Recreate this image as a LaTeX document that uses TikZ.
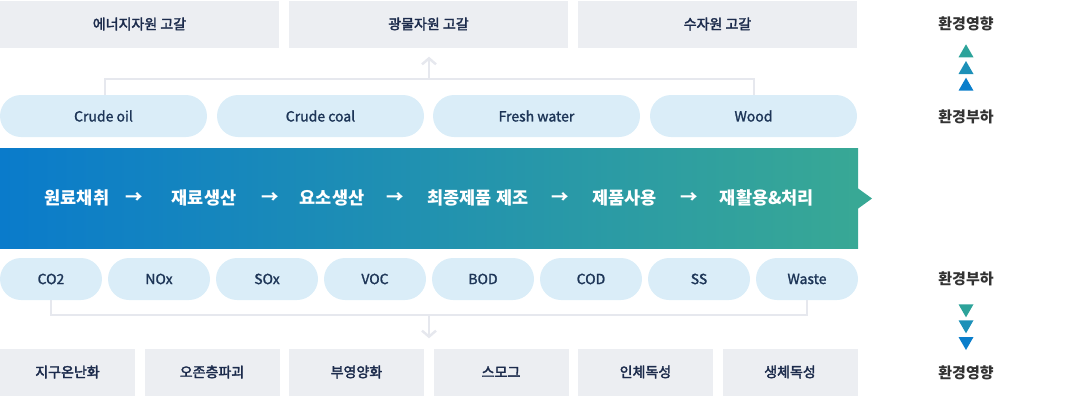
\documentclass[tikz,border=0pt]{standalone}
\usepackage{fontspec}
\setmainfont{Noto Sans CJK KR}
\newfontfamily\medfont{Noto Sans CJK KR}[FakeBold=2.5]
\newfontfamily\pillfont{Noto Sans CJK KR}[FakeBold=1.5]
\usetikzlibrary{arrows.meta}
\definecolor{boxgray}{HTML}{ECEEF2}
\definecolor{pillblue}{HTML}{DAEDF8}
\definecolor{navy}{HTML}{1C2B4C}
\definecolor{pilltext}{HTML}{1D3557}
\definecolor{linegray}{HTML}{E6E8EE}
\definecolor{bandL}{HTML}{0A7BCB}
\definecolor{bandR}{HTML}{38A895}
\definecolor{triT}{HTML}{2DA39A}
\definecolor{triM}{HTML}{1C90B8}
\definecolor{triB}{HTML}{0A7ECB}
\definecolor{labgray}{HTML}{333333}
\tikzset{
  graybox/.style={fill=boxgray, minimum height=47pt, inner sep=0pt, font=\medfont\fontsize{14}{16}\selectfont, text=navy},
  pill/.style={fill=pillblue, rounded corners=21pt, minimum height=42pt, inner sep=0pt, font=\pillfont\fontsize{14}{16}\selectfont, text=pilltext},
  stage/.style={text=white, font=\bfseries\fontsize{17.5}{20}\selectfont, inner sep=0pt},
  reflab/.style={text=labgray, font=\bfseries\fontsize{15}{18}\selectfont, inner sep=0pt},
  conn/.style={draw=linegray, line width=2pt},
  connarrow/.style={draw=linegray, line width=2.5pt, -{Straight Barb[length=6pt,width=14pt]}}
}
\begin{document}
\begin{tikzpicture}[x=1pt,y=-1pt]
\useasboundingbox (0,0) rectangle (1080,408);
% top boxes
\node[graybox, minimum width=279pt] (t1) at (139.5,24) {에너지자원 고갈};
\node[graybox, minimum width=279pt] (t2) at (428.5,24) {광물자원 고갈};
\node[graybox, minimum width=279pt] (t3) at (717.5,24) {수자원 고갈};
% top pills
\node[pill, minimum width=207pt] (p1) at (103.5,116) {Crude oil};
\node[pill, minimum width=207pt] (p2) at (320.5,116) {Crude coal};
\node[pill, minimum width=207pt] (p3) at (536.5,116) {Fresh water};
\node[pill, minimum width=207pt] (p4) at (753.5,116) {Wood};
% top connector
\coordinate (tl) at (105,78.5);
\coordinate (tr) at (754,78.5);
\coordinate (tm) at (429,78.5);
\draw[conn] (p1.north -| tl) -- (tl) -- (tr) -- (p4.north -| tr);
\draw[connarrow] (tm) -- ([yshift=-9pt]t2.south -| tm);
% band
\shade[left color=bandL, right color=bandR] (0,148) rectangle (858,248);
\fill[bandR] (857.5,188) -- (872,198.5) -- (857.5,209) -- cycle;
\node[stage] (s1) at (77,198) {원료채취};
\node[stage] (a1) at (134.5,198) {→};
\node[stage] (s2) at (204,198) {재료생산};
\node[stage] (a2) at (270.5,198) {→};
\node[stage] (s3) at (332,198) {요소생산};
\node[stage] (a3) at (395,198) {→};
\node[stage] (s4) at (478,198) {최종제품 제조};
\node[stage] (a4) at (560,198) {→};
\node[stage] (s5) at (624.5,198) {제품사용};
\node[stage] (a5) at (689,198) {→};
\node[stage] (s6) at (767,198) {재활용\&처리};
% bottom pills
\foreach \t [count=\i from 0] in {CO2,NOx,SOx,VOC,BOD,COD,SS,Waste}{
  \node[pill, minimum width=102pt] (q\i) at (51+108*\i,279) {\t};
}
% bottom connector
\coordinate (bl) at (51,315);
\coordinate (br) at (807,315);
\coordinate (bm) at (429,315);
\draw[conn] (q0.south -| bl) -- (bl) -- (br) -- (q7.south -| br);
% bottom boxes
\foreach \t [count=\i from 0] in {지구온난화,오존층파괴,부영양화,스모그,인체독성,생체독성}{
  \node[graybox, minimum width=135pt] (b\i) at (67.5+144.5*\i,372) {\t};
}
\draw[connarrow] (bm) -- ([yshift=10pt]b2.north -| bm);
% right column
\node[reflab] (r1) at (966,24) {환경영향};
\node[reflab] (r2) at (966,117) {환경부하};
\node[reflab] (r3) at (966,279) {환경부하};
\node[reflab] (r4) at (966,373) {환경영향};
\fill[triT] (958.5,57.3) -- (966,44.3) -- (973.5,57.3) -- cycle;
\fill[triM] (958.5,74) -- (966,61) -- (973.5,74) -- cycle;
\fill[triB] (958.5,90.7) -- (966,77.7) -- (973.5,90.7) -- cycle;
\fill[triT] (958.5,304.3) -- (966,317.3) -- (973.5,304.3) -- cycle;
\fill[triM] (958.5,320.3) -- (966,333.3) -- (973.5,320.3) -- cycle;
\fill[triB] (958.5,337) -- (966,350) -- (973.5,337) -- cycle;
\end{tikzpicture}
\end{document}
